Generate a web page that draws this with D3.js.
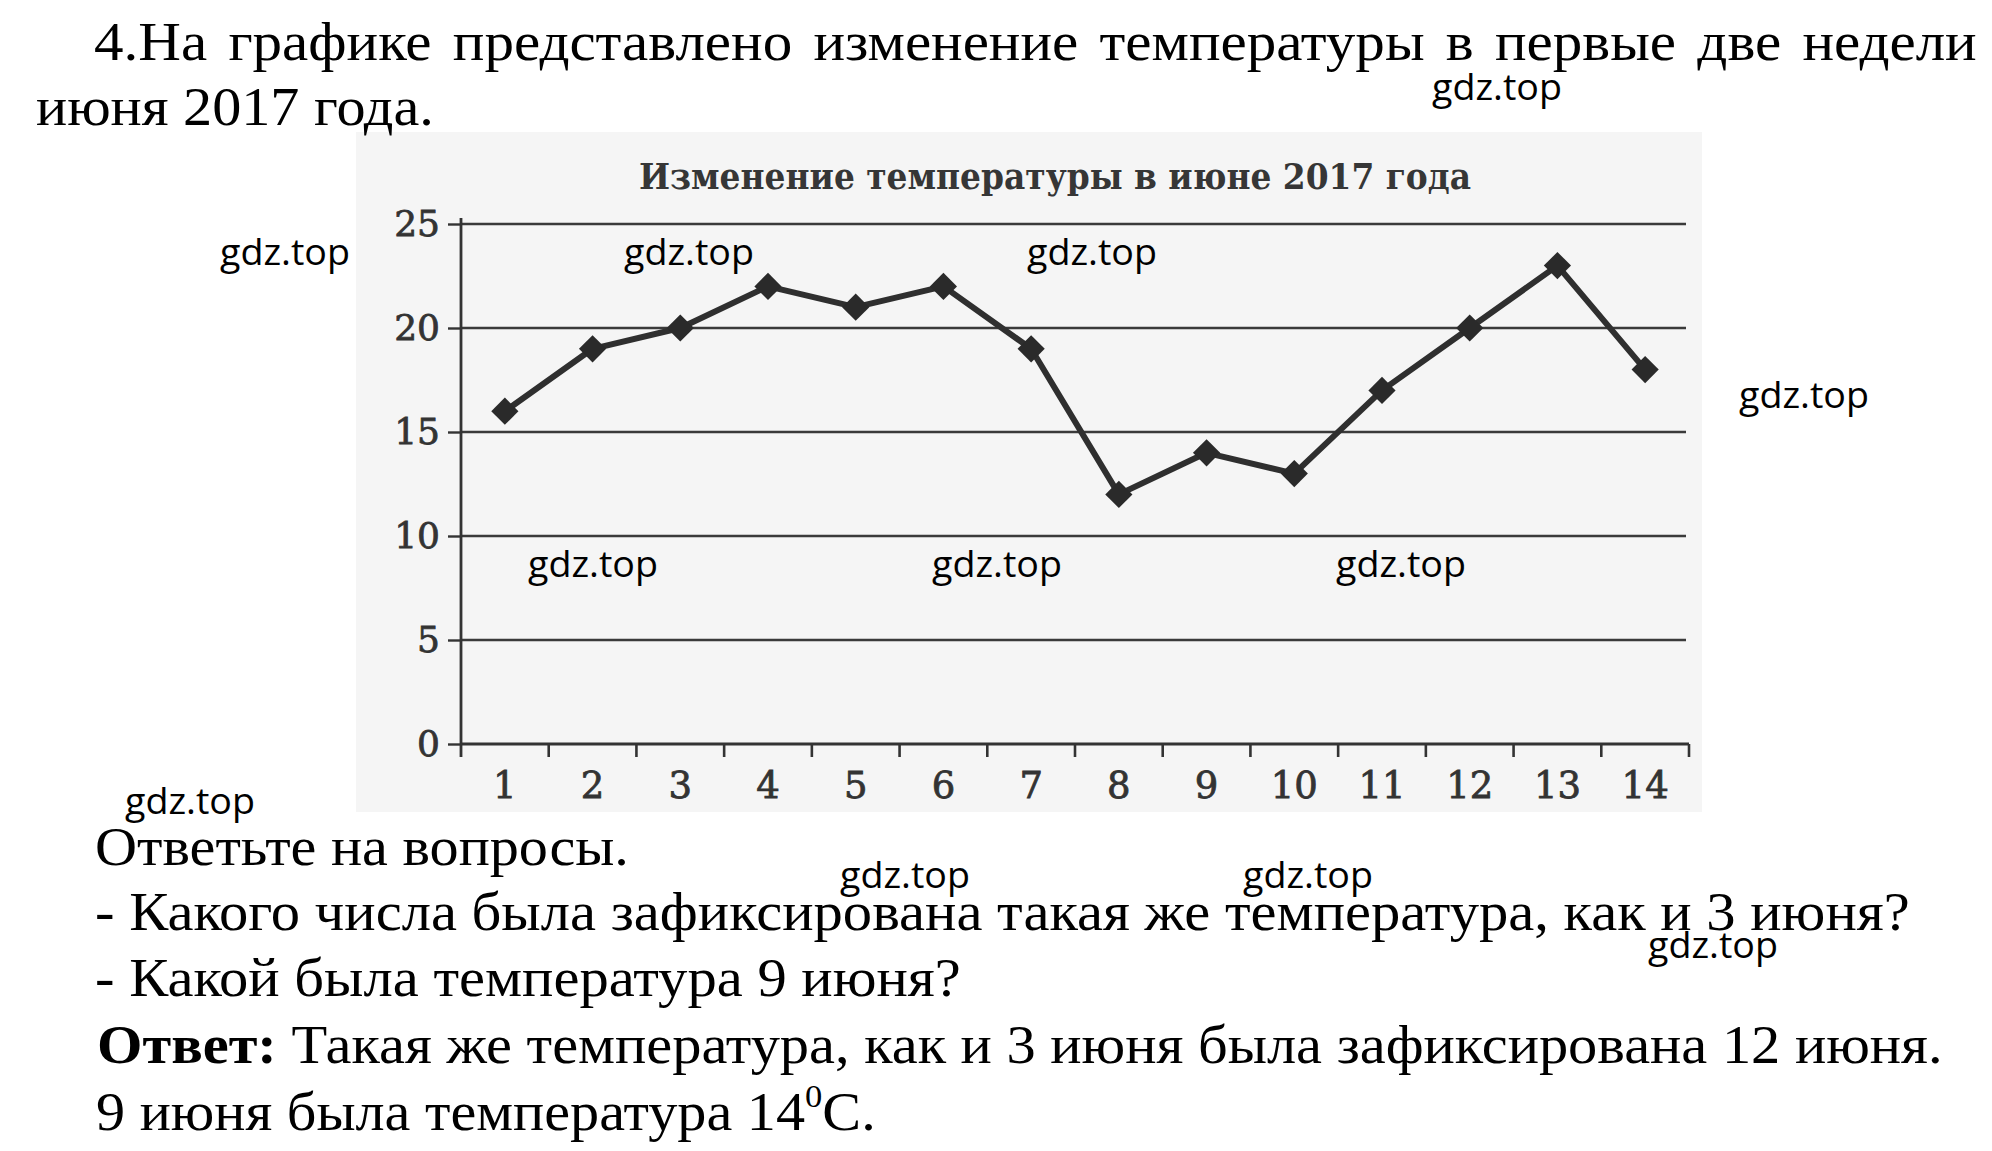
<!DOCTYPE html>
<html>
<head>
<meta charset="utf-8">
<script src="https://cdn.jsdelivr.net/npm/d3@7"></script>
<style>
  html, body { margin: 0; padding: 0; background: #ffffff; }
  svg { display: block; }
</style>
</head>
<body>
<script>
// ---------- DATA ----------
const days = [1, 2, 3, 4, 5, 6, 7, 8, 9, 10, 11, 12, 13, 14];
const temps = [16, 19, 20, 22, 21, 22, 19, 12, 14, 13, 17, 20, 23, 18];
const yTicks = [0, 5, 10, 15, 20, 25];
const chartTitle = "Изменение температуры в июне 2017 года";

const introLine1 = "4.На графике представлено изменение температуры в первые две недели";
const introLine2 = "июня 2017 года.";
const questionsHead = "Ответьте на вопросы.";
const question1 = "- Какого числа была зафиксирована такая же температура, как и 3 июня?";
const question2 = "- Какой была температура 9 июня?";
const answerLabel = "Ответ:";
const answerText = " Такая же температура, как и 3 июня была зафиксирована 12 июня.";
const answer2Main = "9 июня была температура 14";
const answer2Sup = "0";
const answer2Tail = "C.";
const watermark = "gdz.top";

// ---------- LAYOUT ----------
const W = 1992, H = 1151;
const plot = { left: 461, right: 1689, top: 224, bottom: 744 };
const ink = "#333333";

const svg = d3.select("body").append("svg")
  .attr("width", W).attr("height", H)
  .attr("viewBox", `0 0 ${W} ${H}`);

svg.append("rect").attr("width", W).attr("height", H).attr("fill", "#ffffff");

// scanned chart backdrop
svg.append("rect")
  .attr("x", 356).attr("y", 132).attr("width", 1346).attr("height", 680)
  .attr("fill", "#f5f5f5");

const x = d3.scaleBand().domain(days).range([plot.left, plot.right]).padding(0);
const y = d3.scaleLinear().domain([0, 25]).range([plot.bottom, plot.top]);

// title
svg.append("text")
  .attr("x", (639 + 1471) / 2).attr("y", 189)
  .attr("text-anchor", "middle")
  .attr("font-family", "DejaVu Serif")
  .attr("font-weight", "bold")
  .attr("font-size", 35)
  .attr("fill", "#363636")
  .attr("textLength", 832)
  .attr("lengthAdjust", "spacingAndGlyphs")
  .text(chartTitle);

// gridlines
const g = svg.append("g");
g.selectAll("line.grid").data(yTicks.filter(v => v > 0)).join("line")
  .attr("class", "grid")
  .attr("x1", plot.left).attr("x2", plot.right - 3)
  .attr("y1", d => y(d)).attr("y2", d => y(d))
  .attr("stroke", "#3a3a3a").attr("stroke-width", 2.6);

// y axis
const yAxis = g.append("g").attr("transform", `translate(${plot.left},0)`)
  .call(d3.axisLeft(y).tickValues(yTicks).tickSize(13).tickPadding(8));
yAxis.select(".domain").remove();
yAxis.selectAll(".tick line").attr("stroke", ink).attr("stroke-width", 2.4);
yAxis.selectAll(".tick text")
  .attr("font-family", "DejaVu Serif").attr("font-size", 36).attr("fill", ink)
  .attr("stroke", ink).attr("stroke-width", 0.8);

g.append("line")
  .attr("x1", plot.left).attr("x2", plot.left)
  .attr("y1", y(25) - 6).attr("y2", plot.bottom + 13)
  .attr("stroke", ink).attr("stroke-width", 2.8);

// x axis (labels at band centers, ticks at band boundaries)
const xAxis = g.append("g").attr("transform", `translate(0,${plot.bottom})`)
  .call(d3.axisBottom(x).tickSize(0).tickPadding(28));
xAxis.select(".domain").remove();
xAxis.selectAll(".tick text")
  .attr("font-family", "DejaVu Serif").attr("font-size", 37).attr("fill", ink)
  .attr("stroke", ink).attr("stroke-width", 0.8);

g.append("line")
  .attr("x1", plot.left).attr("x2", plot.right)
  .attr("y1", plot.bottom).attr("y2", plot.bottom)
  .attr("stroke", ink).attr("stroke-width", 3.2);

g.selectAll("line.xtick").data(days).join("line")
  .attr("class", "xtick")
  .attr("x1", d => x(d) + x.bandwidth()).attr("x2", d => x(d) + x.bandwidth())
  .attr("y1", plot.bottom).attr("y2", plot.bottom + 13)
  .attr("stroke", ink).attr("stroke-width", 2.6);

// series line
const cx = d => x(d) + x.bandwidth() / 2;
const line = d3.line().x((d, i) => cx(days[i])).y(d => y(d));
g.append("path").datum(temps)
  .attr("d", line)
  .attr("fill", "none").attr("stroke", "#2f2f2f")
  .attr("stroke-width", 6).attr("stroke-linejoin", "round");

// diamond markers
const sym = d3.symbol().type(d3.symbolSquare).size(370);
g.selectAll("path.mark").data(temps).join("path")
  .attr("class", "mark")
  .attr("d", sym)
  .attr("transform", (d, i) => `translate(${cx(days[i])},${y(d)}) rotate(45)`)
  .attr("fill", "#2a2a2a");

// ---------- PAGE TEXT ----------
const serif = "Liberation Serif";
const fs = 54;

// place a text line at (x0, y0) and stretch it horizontally to the target width
function fitLine(x0, y0, target, build) {
  const t = svg.append("text").attr("x", 0).attr("y", 0)
    .attr("font-family", serif).attr("font-size", fs).attr("fill", "#000");
  build(t);
  const w = t.node().getBBox().width;
  t.attr("transform", `translate(${x0},${y0}) scale(${target / w},1)`);
  return t;
}

// line 1: justified (wider word gaps, stretched to full width)
fitLine(94, 60, 1883, t => t.attr("word-spacing", 6).text(introLine1));

fitLine(36, 125, 398, t => t.text(introLine2));
fitLine(95, 865, 534, t => t.text(questionsHead));
fitLine(95, 930, 1815, t => t.text(question1));
fitLine(95, 996, 866, t => t.text(question2));
fitLine(97, 1063, 1846, t => {
  t.append("tspan").attr("font-weight", "bold").text(answerLabel);
  t.append("tspan").text(answerText);
});
fitLine(96, 1130, 780, t => {
  t.append("tspan").text(answer2Main);
  t.append("tspan").attr("font-size", 32).attr("dy", -23).text(answer2Sup);
  t.append("tspan").attr("dy", 23).text(answer2Tail);
});

// watermarks
const wmPos = [
  [1432, 100], [220, 265], [624, 265], [1027, 265], [1739, 408],
  [528, 577], [932, 577], [1336, 577], [125, 814], [840, 888],
  [1243, 888], [1648, 958]
];
svg.selectAll("text.wm").data(wmPos).join("text")
  .attr("class", "wm")
  .attr("x", d => d[0]).attr("y", d => d[1])
  .attr("font-family", "Open Sans").attr("font-size", 36)
  .attr("fill", "#000")
  .attr("textLength", 130).attr("lengthAdjust", "spacingAndGlyphs")
  .text(watermark);
</script>
</body>
</html>
